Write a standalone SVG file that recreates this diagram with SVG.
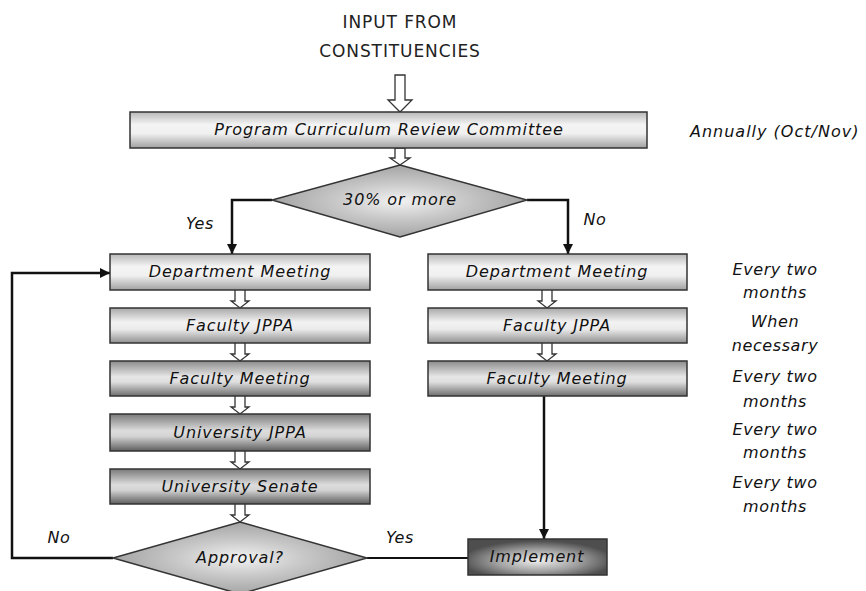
<svg xmlns="http://www.w3.org/2000/svg" width="866" height="591" viewBox="0 0 866 591">
<defs>
<linearGradient id="g1" x1="0" y1="0" x2="0" y2="1">
<stop offset="0" stop-color="#b8b8b8"/><stop offset="0.35" stop-color="#f4f4f4"/><stop offset="0.6" stop-color="#f0f0f0"/><stop offset="1" stop-color="#a0a0a0"/>
</linearGradient>
<linearGradient id="g2" x1="0" y1="0" x2="0" y2="1">
<stop offset="0" stop-color="#a8a8a8"/><stop offset="0.4" stop-color="#f2f2f2"/><stop offset="0.6" stop-color="#ececec"/><stop offset="1" stop-color="#909090"/>
</linearGradient>
<linearGradient id="g3" x1="0" y1="0" x2="0" y2="1">
<stop offset="0" stop-color="#8c8c8c"/><stop offset="0.45" stop-color="#e6e6e6"/><stop offset="0.6" stop-color="#dedede"/><stop offset="1" stop-color="#6e6e6e"/>
</linearGradient>
<linearGradient id="g4" x1="0" y1="0" x2="0" y2="1">
<stop offset="0" stop-color="#7a7a7a"/><stop offset="0.45" stop-color="#dcdcdc"/><stop offset="0.6" stop-color="#d4d4d4"/><stop offset="1" stop-color="#5e5e5e"/>
</linearGradient>
<radialGradient id="gd" cx="0.5" cy="0.5" r="0.5">
<stop offset="0" stop-color="#f2f2f2"/><stop offset="0.5" stop-color="#c8c8c8"/><stop offset="1" stop-color="#a4a4a4"/>
</radialGradient>
<radialGradient id="gi" cx="0.5" cy="0.6" r="0.55">
<stop offset="0" stop-color="#f0f0f0"/><stop offset="0.55" stop-color="#a0a0a0"/><stop offset="1" stop-color="#4e4e4e"/>
</radialGradient>
<marker id="ah" viewBox="0 0 10 10" refX="10" refY="5" markerWidth="10" markerHeight="10" markerUnits="userSpaceOnUse" orient="auto">
<path d="M0,0 L10,5 L0,10 z" fill="#111"/>
</marker>
<path id="hs" d="M-5,0 V11 H-9 L0,18 L9,11 H5 V0" fill="#fff" stroke="#333" stroke-width="1.3"/>
</defs>
<style>
.box{stroke:#333;stroke-width:1.5}
.t{font-family:"DejaVu Sans",sans-serif;font-style:italic;font-size:16px;letter-spacing:0.9px;fill:#111;text-anchor:middle}
.a{font-family:"DejaVu Sans",sans-serif;font-style:italic;font-size:16px;letter-spacing:0.6px;fill:#111;text-anchor:middle}
.h{font-family:"DejaVu Sans",sans-serif;font-size:17px;letter-spacing:0.9px;fill:#222;text-anchor:middle}
.c{fill:none;stroke:#111;stroke-width:2.5}
.c2{fill:none;stroke:#111;stroke-width:2}
</style>
<rect width="866" height="591" fill="#fff"/>

<g id="input">
<text class="h" x="400" y="28">INPUT FROM</text>
<text class="h" x="400" y="57">CONSTITUENCIES</text>
</g>

<g id="connectors">
<path d="M395,75 V100 H388 L400,112 L412,100 H405 V75 Z" fill="#fff" stroke="#333" stroke-width="1.3"/>
<path d="M395,148 V158 H390 L400,165 L410,158 H405 V148 Z" fill="#fff" stroke="#333" stroke-width="1.3"/>
<path class="c" d="M272,200 H232 V254" marker-end="url(#ah)"/>
<path class="c" d="M527,200 H568 V254" marker-end="url(#ah)"/>
<use href="#hs" x="240" y="290"/>
<use href="#hs" x="240" y="343"/>
<use href="#hs" x="240" y="396"/>
<use href="#hs" x="240" y="451"/>
<use href="#hs" x="240" y="504"/>
<use href="#hs" x="547" y="290"/>
<use href="#hs" x="547" y="343"/>
<path class="c" d="M544,396 V539" marker-end="url(#ah)"/>
<path class="c2" d="M367,558 H468"/>
<path class="c" d="M113,558 H12 V273 H110" marker-end="url(#ah)"/>
<text class="a" x="200" y="229">Yes</text>
<text class="a" x="595" y="225">No</text>
<text class="a" x="400" y="543">Yes</text>
<text class="a" x="59" y="543">No</text>
</g>

<g id="pcrc">
<rect class="box" x="130" y="112" width="517" height="36" fill="url(#g1)"/>
<text class="t" x="389" y="135">Program Curriculum Review Committee</text>
</g>
<g id="d30">
<polygon class="box" points="400,165 527,200 400,237 272,200" fill="url(#gd)"/>
<text class="t" x="400" y="205">30% or more</text>
</g>
<g id="ldept">
<rect class="box" x="110" y="254" width="260" height="36" fill="url(#g1)"/>
<text class="t" x="240" y="277">Department Meeting</text>
</g>
<g id="lfjppa">
<rect class="box" x="110" y="308" width="260" height="35" fill="url(#g2)"/>
<text class="t" x="240" y="331">Faculty JPPA</text>
</g>
<g id="lfm">
<rect class="box" x="110" y="361" width="260" height="35" fill="url(#g3)"/>
<text class="t" x="240" y="384">Faculty Meeting</text>
</g>
<g id="ujppa">
<rect class="box" x="110" y="414" width="260" height="37" fill="url(#g4)"/>
<text class="t" x="240" y="438">University JPPA</text>
</g>
<g id="senate">
<rect class="box" x="110" y="469" width="260" height="35" fill="url(#g4)"/>
<text class="t" x="240" y="492">University Senate</text>
</g>
<g id="approval">
<polygon class="box" points="240,522 367,558 240,594 113,558" fill="url(#gd)"/>
<text class="t" x="240" y="563">Approval?</text>
</g>
<g id="rdept">
<rect class="box" x="428" y="254" width="259" height="36" fill="url(#g1)"/>
<text class="t" x="557" y="277">Department Meeting</text>
</g>
<g id="rfjppa">
<rect class="box" x="428" y="308" width="259" height="35" fill="url(#g2)"/>
<text class="t" x="557" y="331">Faculty JPPA</text>
</g>
<g id="rfm">
<rect class="box" x="428" y="361" width="259" height="35" fill="url(#g3)"/>
<text class="t" x="557" y="384">Faculty Meeting</text>
</g>
<g id="implement">
<rect class="box" x="468" y="539" width="139" height="36" fill="url(#gi)"/>
<text class="t" x="537" y="562">Implement</text>
</g>

<g id="notes">
<text class="a" x="690" y="137" style="text-anchor:start;letter-spacing:1px">Annually (Oct/Nov)</text>
<text class="a" x="775" y="275">Every two</text>
<text class="a" x="775" y="298">months</text>
<text class="a" x="775" y="327">When</text>
<text class="a" x="775" y="351">necessary</text>
<text class="a" x="775" y="382">Every two</text>
<text class="a" x="775" y="407">months</text>
<text class="a" x="775" y="435">Every two</text>
<text class="a" x="775" y="458">months</text>
<text class="a" x="775" y="488">Every two</text>
<text class="a" x="775" y="512">months</text>
</g>
</svg>
